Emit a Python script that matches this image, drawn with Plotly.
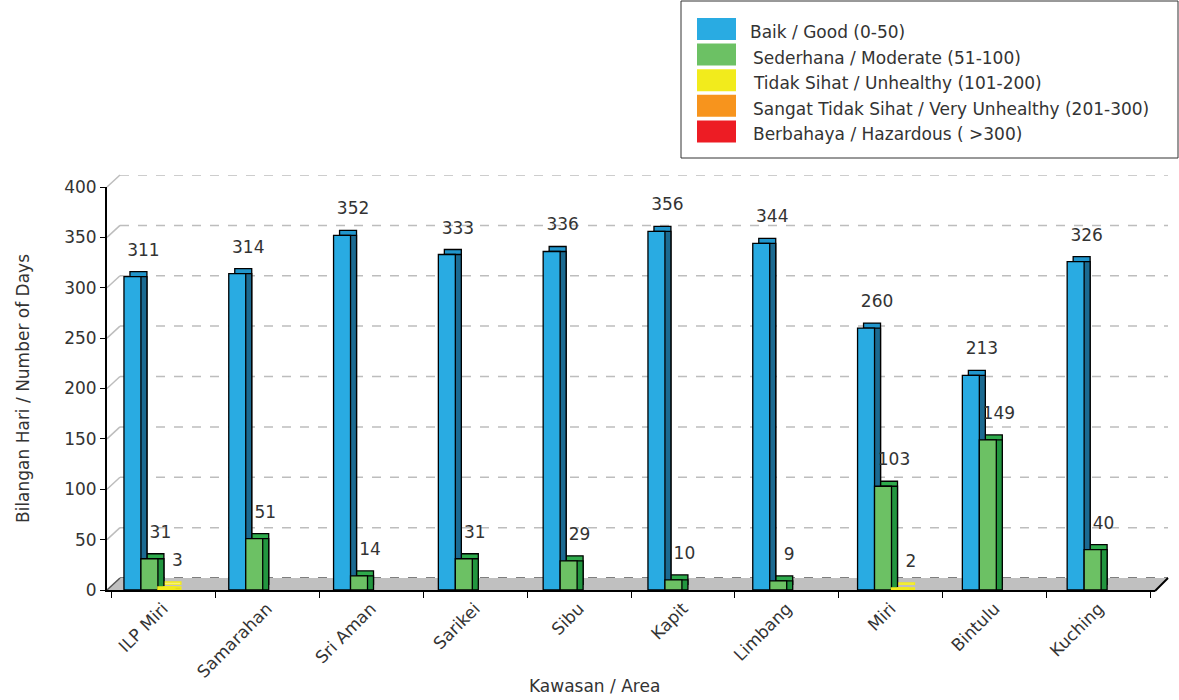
import plotly.graph_objects as go

# ---------------- data ----------------
areas = ["ILP Miri", "Samarahan", "Sri Aman", "Sarikei", "Sibu",
         "Kapit", "Limbang", "Miri", "Bintulu", "Kuching"]
good = [311, 314, 352, 333, 336, 356, 344, 260, 213, 326]
moderate = [31, 51, 14, 31, 29, 10, 9, 103, 149, 40]
unhealthy = [3, 0, 0, 0, 0, 0, 0, 2, 0, 0]
very_unhealthy = [0, 0, 0, 0, 0, 0, 0, 0, 0, 0]
hazardous = [0, 0, 0, 0, 0, 0, 0, 0, 0, 0]
series_names = ["Baik / Good (0-50)",
                "Sederhana / Moderate (51-100)",
                "Tidak Sihat / Unhealthy (101-200)",
                "Sangat Tidak Sihat / Very Unhealthy (201-300)",
                "Berbahaya / Hazardous ( >300)"]
series_values = [good, moderate, unhealthy, very_unhealthy, hazardous]
y_ticks = [0, 50, 100, 150, 200, 250, 300, 350, 400]
x_title = "Kawasan / Area"
y_title = "Bilangan Hari / Number of Days"

# ---------------- styles ----------------
front_colors = ["#29ABE2", "#6CC164", "#F2EB1C", "#F7941D", "#ED1C24"]
top_colors = ["#2196CC", "#2EAA4C", "#F6F07A", "#E0851A", "#D0181F"]
side_colors = ["#1B6A91", "#22963F", "#E6DE18", "#C97414", "#B01418"]
edge_colors = ["#000000", "#000000", "#F2EB1C", "#000000", "#000000"]
FONT = "DejaVu Sans"
FS = 17
TXT = "#333333"

W, H = 1179, 700
L, R, T, B = 107, 3, 160, 110
PW, PH = W - L - R, H - T - B


def px(x):
    return (x - L) / PW


def py(y):
    return (H - B - y) / PH


def dom(x0, y_bottom, width=1048, height=403):
    return [px(x0), px(x0 + width)], [py(y_bottom), py(y_bottom - height)]


BX = 7  # horizontal shift of the bar block relative to the front axis
# subplot geometry: back wall, front axes, depth-top, depth-side, front bars, labels
geo = {
    1: dom(120, 578),
    2: dom(107, 590),
    3: dom(107 + BX + 6, 585),
    4: dom(107 + BX + 6, 590),
    5: dom(107 + BX, 590),
    6: dom(107 + BX + 11, 576),
}


def plotted(vals):
    return [v if v else None for v in vals]


fig = go.Figure()

# back wall and front axes
fig.add_trace(go.Scatter(x=areas, y=[None] * len(areas), xaxis="x", yaxis="y",
                         showlegend=False, hoverinfo="skip"))
fig.add_trace(go.Scatter(x=areas, y=[None] * len(areas), xaxis="x2", yaxis="y2",
                         showlegend=False, hoverinfo="skip"))

for k, (name, vals) in enumerate(zip(series_names, series_values)):
    fig.add_trace(go.Bar(x=areas, y=plotted(vals), xaxis="x3", yaxis="y3", showlegend=False,
                         marker=dict(color=top_colors[k], line=dict(color=edge_colors[k], width=1.3)),
                         hoverinfo="skip"))
for k, (name, vals) in enumerate(zip(series_names, series_values)):
    fig.add_trace(go.Bar(x=areas, y=plotted(vals), xaxis="x4", yaxis="y4", showlegend=False,
                         marker=dict(color=side_colors[k], line=dict(color=edge_colors[k], width=1.3)),
                         hoverinfo="skip"))
for k, (name, vals) in enumerate(zip(series_names, series_values)):
    fig.add_trace(go.Bar(x=areas, y=plotted(vals), xaxis="x5", yaxis="y5", name=name,
                         showlegend=False,
                         marker=dict(color=front_colors[k], line=dict(color=edge_colors[k], width=1.3))))
for k, (name, vals) in enumerate(zip(series_names, series_values)):
    fig.add_trace(go.Bar(x=areas, y=plotted(vals), xaxis="x6", yaxis="y6", showlegend=False,
                         marker=dict(color="rgba(0,0,0,0)", line=dict(width=0)),
                         text=[str(v) if v else "" for v in vals],
                         textposition="outside", constraintext="none", cliponaxis=False,
                         textfont=dict(family=FONT, size=FS, color=TXT), hoverinfo="skip"))

hidden_x = dict(type="category", categoryorder="array", categoryarray=areas,
                showgrid=False, showticklabels=False, ticks="", showline=False, zeroline=False)
hidden_y = dict(range=[0, 400], showgrid=False, showticklabels=False, ticks="",
                showline=False, zeroline=False)

layout = dict(
    width=W, height=H,
    margin=dict(l=L, r=R, t=T, b=B),
    paper_bgcolor="white", plot_bgcolor="rgba(0,0,0,0)",
    barmode="group", bargap=0.19, bargroupgap=0,
    showlegend=False,
    font=dict(family=FONT, size=FS, color=TXT),
)
for i in range(1, 7):
    xs = "" if i == 1 else str(i)
    xd, yd = geo[i]
    layout["xaxis" + xs] = dict(hidden_x, domain=xd, anchor="y" + xs)
    layout["yaxis" + xs] = dict(hidden_y, domain=yd, anchor="x" + xs)

# front axes
layout["xaxis2"].update(showticklabels=True, tickangle=-45, ticks="outside", ticklen=6,
                        tickcolor="#000000", tickwidth=1, tickson="boundaries",
                        showline=True, linecolor="#000000", linewidth=2,
                        tickfont=dict(family=FONT, size=FS, color=TXT))
layout["yaxis2"].update(showticklabels=True, ticks="outside", ticklen=5, tickcolor="#000000",
                        tickvals=y_ticks, showline=True, linecolor="#000000", linewidth=2,
                        tickfont=dict(family=FONT, size=FS, color=TXT),
                        title=dict(text=y_title, font=dict(family=FONT, size=FS, color=TXT),
                                   standoff=30))
fig.update_layout(**layout)

shapes = []
# floor
shapes.append(dict(type="path", xref="paper", yref="paper", layer="below",
                   path=f"M{px(107)},{py(590)} L{px(1155)},{py(590)} L{px(1168)},{py(578)} "
                        f"L{px(120)},{py(578)} Z",
                   fillcolor="#C0C0C0", line=dict(width=0)))
shapes.append(dict(type="line", xref="paper", yref="paper", layer="above",
                   x0=px(1155), y0=py(591), x1=px(1168), y1=py(578),
                   line=dict(color="#000000", width=2)))
# back wall gridlines (on the back-wall y axis) and connectors to the front axis ticks
for v in y_ticks:
    shapes.append(dict(type="line", xref="paper", yref="y", layer="below",
                       x0=px(120), y0=v, x1=px(1168), y1=v,
                       line=dict(color="#BDBDBD" if v else "#555555", width=1.5, dash="dash")))
    yv = 590 - v * 403 / 400
    shapes.append(dict(type="line", xref="paper", yref="paper", layer="below",
                       x0=px(107), y0=py(yv), x1=px(120), y1=py(yv - 12),
                       line=dict(color="#BDBDBD" if v else "#555555", width=1.5)))

# custom legend
shapes.append(dict(type="rect", xref="paper", yref="paper",
                   x0=px(681), y0=py(1), x1=px(1178), y1=py(158),
                   line=dict(color="#333333", width=1), fillcolor="white"))
annotations = []
for k, name in enumerate(series_names):
    top = 18 + k * 25.6
    shapes.append(dict(type="rect", xref="paper", yref="paper",
                       x0=px(697), y0=py(top), x1=px(736), y1=py(top + 22),
                       line=dict(width=0), fillcolor=front_colors[k]))
    annotations.append(dict(text=name, xref="paper", yref="paper",
                            x=px(748 if k == 0 else 751), y=py(top + 14),
                            xanchor="left", yanchor="middle", showarrow=False,
                            font=dict(family=FONT, size=FS, color=TXT)))

annotations.append(dict(text=x_title, xref="paper", yref="paper", x=px(594), y=py(686),
                        xanchor="center", yanchor="middle", showarrow=False,
                        font=dict(family=FONT, size=FS, color=TXT)))

fig.update_layout(shapes=shapes, annotations=annotations)
fig.write_html("out.html")
